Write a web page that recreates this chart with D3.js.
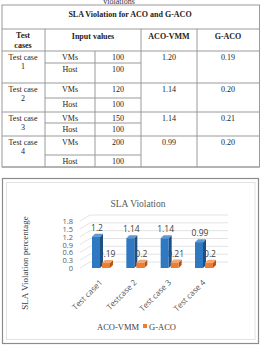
<!DOCTYPE html>
<html>
<head>
<meta charset="utf-8">
<script src="https://cdn.jsdelivr.net/npm/d3@7"></script>
<style>
  body { margin: 0; background: #fff; }
  svg { display: block; }
</style>
</head>
<body>
<svg id="page" width="262" height="346"></svg>
<script>
// data
var tableCases = ["1", "2", "3", "4"];
var vms = [100, 120, 150, 200];
var hosts = [100, 100, 100, 100];
var acoVmm = [1.20, 1.14, 1.14, 0.99];
var gAco = [0.19, 0.20, 0.21, 0.20];
var categories = ["Test case1", "Testcase 2", "Test case 3", "Test case 4"];
var seriesNames = ["ACO-VMM", "G-ACO"];
var yTicks = [0, 0.3, 0.6, 0.9, 1.2, 1.5, 1.8];

var svg = d3.select("#page");
var serif = "'Liberation Serif', 'DejaVu Serif', serif";
var sans = "'Open Sans', 'Liberation Sans', sans-serif";

// ---------- table ----------
var tbl = svg.append("g");
var lineCol = "#9a9a9a";
var rowTop = [51, 83, 112, 136];
var rowSub = [63, 98, 123, 155];
var rowBot = [83, 112, 136, 167];

// caption cut by the top edge, as in the source
svg.append("text")
	.attr("x", 119).attr("y", 4)
	.attr("text-anchor", "middle")
	.style("font-family", serif).style("font-size", "8px").style("fill", "#333")
	.text("violations");

tbl.append("rect")
	.attr("x", 2).attr("y", 5).attr("width", 257.5).attr("height", 162)
	.attr("fill", "none").attr("stroke", lineCol);

function hline(x1, x2, y) {
	tbl.append("line").attr("x1", x1).attr("x2", x2).attr("y1", y).attr("y2", y)
		.attr("stroke", lineCol).attr("stroke-width", 1);
}
function vline(x, y1, y2) {
	tbl.append("line").attr("x1", x).attr("x2", x).attr("y1", y1).attr("y2", y2)
		.attr("stroke", lineCol).attr("stroke-width", 1);
}
hline(2, 259.5, 29);
hline(2, 259.5, 51);
rowBot.forEach(function(y) { hline(2, 259.5, y); });
rowSub.forEach(function(y) { hline(45, 141, y); });
vline(45, 29, 167);
vline(95, 51, 167);
vline(141, 29, 167);
vline(197, 29, 167);

function txt(x, y, s, bold) {
	tbl.append("text")
		.attr("x", x).attr("y", y)
		.attr("text-anchor", "middle")
		.style("font-family", serif)
		.style("font-size", "8px")
		.style("font-weight", bold ? "bold" : "normal")
		.style("fill", "#222")
		.text(s);
}
txt(130, 17, "SLA Violation for ACO and G-ACO", true);
txt(23, 38, "Test", true);
txt(23, 48, "cases", true);
txt(93, 39, "Input values", true);
txt(169, 39, "ACO-VMM", true);
txt(228, 39, "G-ACO", true);

tableCases.forEach(function(c, i) {
	txt(23, rowTop[i] + 9, "Test case");
	txt(23, rowTop[i] + 18, c);
	txt(70, rowTop[i] + 9, "VMs");
	txt(118, rowTop[i] + 9, vms[i]);
	txt(70, rowSub[i] + 9, "Host");
	txt(118, rowSub[i] + 9, hosts[i]);
	txt(169, rowTop[i] + 9, acoVmm[i].toFixed(2));
	txt(228, rowTop[i] + 9, gAco[i].toFixed(2));
});

// ---------- chart ----------
var chart = svg.append("g");
chart.append("rect")
	.attr("x", 2.5).attr("y", 178.5).attr("width", 256).attr("height", 165)
	.attr("fill", "#fff").attr("stroke", "#8c8c8c").attr("stroke-width", 1.2);
chart.append("rect")
	.attr("x", 6.5).attr("y", 182.5).attr("width", 248.5).attr("height", 157)
	.attr("fill", "none").attr("stroke", "#e2e2e2");

chart.append("text")
	.attr("x", 138).attr("y", 207)
	.attr("text-anchor", "middle")
	.style("font-family", serif).style("font-size", "9.5px").style("fill", "#595959")
	.text("SLA Violation");

chart.append("text")
	.attr("transform", "translate(28,263) rotate(-90)")
	.attr("text-anchor", "middle")
	.style("font-family", serif).style("font-size", "9px").style("fill", "#404040")
	.text("SLA Violation  percentage");

var y = d3.scaleLinear().domain([0, 1.8]).range([268, 221]);
var x = d3.scalePoint().domain(categories).range([102, 205]);
var wallDx = 10, wallDy = -6, wallRight = 228, axisX = 80;

// gridlines: side wall slant + back wall
var grid = chart.append("g");
yTicks.forEach(function(t) {
	var yy = y(t);
	grid.append("path")
		.attr("d", "M" + axisX + "," + yy + "L" + (axisX + wallDx) + "," + (yy + wallDy) + "L" + wallRight + "," + (yy + wallDy))
		.attr("fill", "none").attr("stroke", "#dcdcdc").attr("stroke-width", 0.8);
});

// y tick labels
var yAxis = d3.axisLeft(y).tickValues(yTicks).tickSize(0).tickPadding(0)
	.tickFormat(function(d) { return String(+d.toFixed(1)); });
var ya = chart.append("g").attr("transform", "translate(73,0)").call(yAxis);
ya.select(".domain").remove();
ya.selectAll("text")
	.attr("dy", "0.35em")
	.style("font-family", sans).style("font-size", "7.5px").style("fill", "#595959");

// bars
var barW = 8, dep = 3;
function bar3d(g, x0, v, front, side, top) {
	var y0 = y(0), y1 = y(v);
	g.append("path")
		.attr("d", "M" + (x0 + barW) + "," + y0 + "L" + (x0 + barW + dep) + "," + (y0 - dep) +
			"L" + (x0 + barW + dep) + "," + (y1 - dep) + "L" + (x0 + barW) + "," + y1 + "Z")
		.attr("fill", side);
	g.append("path")
		.attr("d", "M" + x0 + "," + y1 + "L" + (x0 + dep) + "," + (y1 - dep) +
			"L" + (x0 + barW + dep) + "," + (y1 - dep) + "L" + (x0 + barW) + "," + y1 + "Z")
		.attr("fill", top);
	g.append("rect")
		.attr("x", x0).attr("y", y1).attr("width", barW).attr("height", y0 - y1)
		.attr("fill", front);
}

var labelStyle = function(sel) {
	sel.style("font-family", sans).style("font-size", "8.5px").style("fill", "#404040")
		.attr("text-anchor", "middle");
};

// orange labels sit behind the blue bars
var orangeLbl = chart.append("g");
categories.forEach(function(c, i) {
	orangeLbl.append("text")
		.attr("x", x(c) + 5).attr("y", y(gAco[i]) - 6)
		.call(labelStyle)
		.text(String(gAco[i]));
});

var bars = chart.append("g");
categories.forEach(function(c, i) {
	bar3d(bars, x(c) - 10, acoVmm[i], "#2f78c2", "#1d4f82", "#5a9ad6");
	bar3d(bars, x(c), gAco[i], "#ed7d31", "#b2561a", "#f4a56d");
});

var blueLbl = chart.append("g");
categories.forEach(function(c, i) {
	blueLbl.append("text")
		.attr("x", x(c) - 5).attr("y", y(acoVmm[i]) - 6)
		.call(labelStyle)
		.text(String(acoVmm[i]));
});

// category labels, rotated
categories.forEach(function(c) {
	chart.append("text")
		.attr("transform", "translate(" + (x(c) + 1) + ",283) rotate(-45)")
		.attr("text-anchor", "end")
		.style("font-family", sans).style("font-size", "8px").style("fill", "#595959")
		.text(c);
});

// legend
var leg = chart.append("g");
var l1 = leg.append("text")
	.attr("x", 97).attr("y", 330)
	.style("font-family", serif).style("font-size", "8.5px").style("fill", "#404040")
	.text(seriesNames[0]);
var lx = 97 + l1.node().getComputedTextLength() + 4;
leg.append("rect")
	.attr("x", lx).attr("y", 324).attr("width", 4).attr("height", 4)
	.attr("fill", "#ed7d31");
leg.append("text")
	.attr("x", lx + 6).attr("y", 330)
	.style("font-family", serif).style("font-size", "8.5px").style("fill", "#404040")
	.text(seriesNames[1]);
</script>
</body>
</html>
